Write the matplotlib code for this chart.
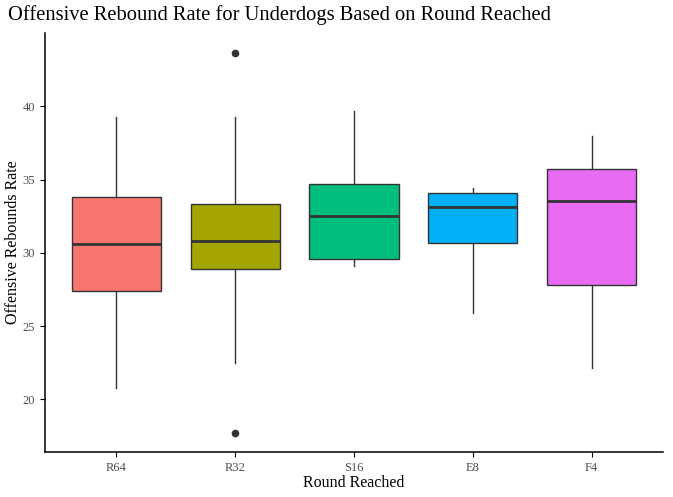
import matplotlib
matplotlib.use("Agg")
import matplotlib.pyplot as plt

rounds = ["R64", "R32", "S16", "E8", "F4"]
whislo = [20.75, 22.45, 29.1, 25.9, 22.1]
q1 = [27.4, 28.9, 29.6, 30.7, 27.8]
med = [30.6, 30.8, 32.5, 33.1, 33.5]
q3 = [33.8, 33.35, 34.7, 34.05, 35.75]
whishi = [39.3, 39.3, 39.7, 34.45, 38.0]
fliers = [[], [43.65, 17.7], [], [], []]
fill_colors = ["#F8766D", "#A3A500", "#00BF7D", "#00B0F6", "#E76BF3"]

plt.rcParams["font.family"] = ["Liberation Serif", "DejaVu Serif"]

stats = []
for i, name in enumerate(rounds):
    stats.append({"label": name, "whislo": whislo[i], "q1": q1[i], "med": med[i],
                  "q3": q3[i], "whishi": whishi[i], "fliers": fliers[i]})

fig = plt.figure(figsize=(6.73, 4.97), dpi=100)
ax = fig.add_axes([45 / 673, 45 / 497, 618 / 673, 419 / 497])

bp = ax.bxp(stats, positions=range(1, 6), widths=0.75, patch_artist=True,
            showcaps=False,
            boxprops=dict(edgecolor="#333333", linewidth=1.0),
            medianprops=dict(color="#333333", linewidth=2.0),
            whiskerprops=dict(color="#333333", linewidth=1.0),
            flierprops=dict(marker="o", markerfacecolor="#333333",
                            markeredgecolor="#333333", markersize=4.5))
for patch, c in zip(bp["boxes"], fill_colors):
    patch.set_facecolor(c)
    patch.set_zorder(2)
for w in bp["whiskers"]:
    w.set_zorder(1)

ax.set_xlim(0.4, 5.6)
ax.set_ylim(16.4, 45.0)
ax.set_yticks([20, 25, 30, 35, 40])
ax.spines["top"].set_visible(False)
ax.spines["right"].set_visible(False)
ax.spines["left"].set_linewidth(1.1)
ax.spines["bottom"].set_linewidth(1.1)
ax.tick_params(axis="both", colors="#4D4D4D", labelsize=9, length=3.5)
ax.tick_params(axis="both", color="black")

ax.set_xlabel("Round Reached", fontsize=11.5, labelpad=1)
ax.set_ylabel("Offensive Rebounds Rate", fontsize=11.5, labelpad=1)
fig.text(8 / 673, 1 - 15 / 497, "Offensive Rebound Rate for Underdogs Based on Round Reached",
         fontsize=14.8, va="center", ha="left")

fig.savefig("out.png", dpi=100)
